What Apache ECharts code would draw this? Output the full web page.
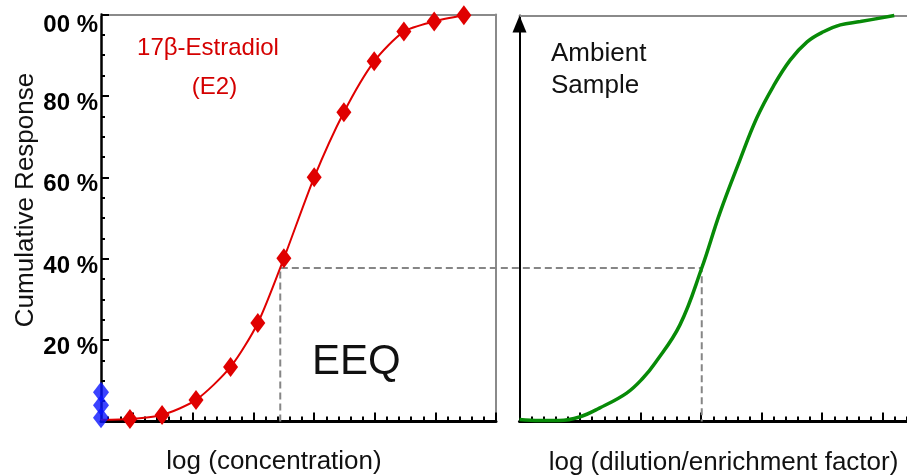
<!DOCTYPE html>
<html><head><meta charset="utf-8">
<script src="https://cdn.jsdelivr.net/npm/echarts@6/dist/echarts.min.js"></script>
<style>html,body{margin:0;padding:0;background:#fff}#c{width:907px;height:476px}</style>
</head><body><div id="c"></div>
<script>
// ---- Left panel: 17β-Estradiol standard curve (x: log concentration, arbitrary units; y: cumulative response %)
const e2LogConc  = [-0.518, -0.04, 0.49, 1.05, 1.62, 2.07, 2.50, 3.00, 3.49, 3.99, 4.48, 4.98, 5.47];
const e2Response = [0.4, 0.6, 1.6, 5.3, 13.4, 24.2, 40.1, 60.0, 76.0, 88.5, 95.8, 98.3, 99.8];
const e2Marked   = [false, true, true, true, true, true, true, true, true, true, true, true, true];
// blank / solvent control points (blue) on the y axis
const blankLogConc  = [-0.518, -0.518, -0.518];
const blankResponse = [0.9, 4.0, 7.2];

// ---- Right panel: ambient sample (x: log dilution/enrichment factor; y: cumulative response %)
const sampleLogDil   = [0.00, 0.33, 0.66, 0.99, 1.32, 1.77, 2.04, 2.24, 2.65, 3.01, 3.31, 3.64, 3.92, 4.19, 4.47, 4.75, 5.02, 5.30, 5.63, 6.19];
const sampleResponse = [0.5, 0.25, 0.25, 1.1, 3.3, 7.0, 10.7, 14.4, 23.8, 37.8, 51.4, 64.4, 74.8, 82.5, 89.0, 93.5, 96.0, 97.7, 98.5, 100];

// ---- EEQ read-off
const eeqLevel = 37.7;
const e2AtLevel = 2.44;
const sampleAtLevel = 3.01;

// ---- Axis ticks / labels
const yTickValues = [20, 40, 60, 80, 100];
const yTickLabels = ['20 %', '40 %', '60 %', '80 %', '00 %'];
const majorTicks = [0, 1, 2, 3, 4, 5, 6];
const leftXRange = [-0.518, 6.0];
const rightXRange = [0, 6.4];

function minorOf(range) {
  const out = [];
  for (let m = -1; m <= 7; m++) for (let k = 1; k <= 4; k++) {
    const v = +(m + k * 0.2).toFixed(3);
    if (v >= range[0] && v <= range[1]) out.push(v);
  }
  return out;
}

const chart = echarts.init(document.getElementById('c'), null, {renderer: 'canvas'});
const labelFont = "'Liberation Sans',Arial,sans-serif";
const txtFont = "'Liberation Sans',Arial,Helvetica,sans-serif";

function tickAxis(grid, range, ticks, len, lineShow) {
  return {
    gridIndex: grid, type: 'value', position: 'bottom', min: range[0], max: range[1],
    axisLine: {show: lineShow, onZero: false, lineStyle: {color: '#000', width: 3}},
    axisTick: {show: true, inside: true, length: len, customValues: ticks, lineStyle: {color: '#000', width: 2}},
    axisLabel: {show: false}, splitLine: {show: false}
  };
}
function borderX(grid, range) {
  return {gridIndex: grid, type: 'value', position: 'top', min: range[0], max: range[1],
    axisLine: {show: true, onZero: false, lineStyle: {color: '#8a8a8a', width: 2}},
    axisTick: {show: false}, axisLabel: {show: false}, splitLine: {show: false}};
}

const option = {
  animation: false,
  backgroundColor: '#fff',
  grid: [
    {left: 101, right: 411, top: 14.5, bottom: 54.5},
    {left: 519.5, right: 0, top: 15.5, bottom: 54.5}
  ],
  xAxis: [
    tickAxis(0, leftXRange, majorTicks, 9, true),
    tickAxis(0, leftXRange, minorOf(leftXRange), 5, false),
    borderX(0, leftXRange),
    tickAxis(1, rightXRange, majorTicks, 9, true),
    tickAxis(1, rightXRange, minorOf(rightXRange), 5, false),
    borderX(1, rightXRange)
  ],
  yAxis: [
    {gridIndex: 0, type: 'value', position: 'left', min: 0, max: 100, interval: 20,
      axisLine: {show: true, onZero: false, lineStyle: {color: '#000', width: 2.5}},
      axisTick: {show: true, inside: true, length: 8, lineStyle: {color: '#000', width: 2}},
      minorTick: {show: true, splitNumber: 4, length: 4, lineStyle: {color: '#000', width: 2}},
      axisLabel: {
        show: true, margin: 3, color: '#000', fontFamily: labelFont, fontWeight: 'bold', fontSize: 24,
        padding: [15, 0, 0, 0],
        formatter: function (v) {
          const i = yTickValues.indexOf(v);
          if (i < 0) return '';
          return v === 100 ? '{t|' + yTickLabels[i] + '}' : yTickLabels[i];
        },
        rich: {t: {padding: [6, 0, 0, 0], fontSize: 24, fontWeight: 'bold', fontFamily: labelFont, color: '#000'}}
      },
      splitLine: {show: false}},
    {gridIndex: 0, type: 'value', position: 'right', min: 0, max: 100,
      axisLine: {show: true, onZero: false, lineStyle: {color: '#8a8a8a', width: 2}},
      axisTick: {show: false}, axisLabel: {show: false}, splitLine: {show: false}},
    {gridIndex: 1, type: 'value', position: 'left', min: 0, max: 100,
      axisLine: {show: true, onZero: false, symbol: ['none', 'triangle'], symbolSize: [14, 17], symbolOffset: [0, -8.5],
        lineStyle: {color: '#000', width: 2}},
      axisTick: {show: false}, axisLabel: {show: false}, splitLine: {show: false}}
  ],
  series: [
    {
      name: '17β-Estradiol', type: 'line', xAxisIndex: 0, yAxisIndex: 0, clip: false,
      smooth: 0.25, lineStyle: {color: '#e00000', width: 2},
      symbol: 'diamond', symbolSize: [15, 20], itemStyle: {color: '#e00000'},
      data: e2LogConc.map((x, i) => e2Marked[i] ? [x, e2Response[i]] : {value: [x, e2Response[i]], symbol: 'none'}),
      z: 3
    },
    {
      name: 'Blank', type: 'scatter', xAxisIndex: 0, yAxisIndex: 0, clip: false,
      symbol: 'diamond', symbolSize: [16, 21], itemStyle: {color: '#0a14ff'},
      data: blankLogConc.map((x, i) => [x, blankResponse[i]]), z: 4
    },
    {
      name: 'Ambient Sample', type: 'line', xAxisIndex: 3, yAxisIndex: 2, clip: false,
      smooth: 0.4, showSymbol: false, symbol: 'none',
      lineStyle: {color: '#078a07', width: 3.5},
      data: sampleLogDil.map((x, i) => [x, sampleResponse[i]]), z: 3
    }
  ]
};
chart.setOption(option);

const pA0 = chart.convertToPixel({seriesIndex: 0}, [e2AtLevel, 0]);
const pA  = chart.convertToPixel({seriesIndex: 0}, [e2AtLevel, eeqLevel]);
const pB  = chart.convertToPixel({seriesIndex: 2}, [sampleAtLevel, eeqLevel]);
const pB0 = chart.convertToPixel({seriesIndex: 2}, [sampleAtLevel, 0]);

function txt(text, x, y, size, color, align, rot) {
  return {type: 'text', x: x, y: y, rotation: rot || 0, z: 10,
    style: {text: text, x: 0, y: 0, fill: color, font: size + 'px ' + txtFont,
      align: align, verticalAlign: 'middle', textAlign: align, textVerticalAlign: 'middle'}};
}

chart.setOption({
  graphic: [
    {type: 'polyline', z: 1, shape: {points: [pA0, pA, [pB[0], pA[1]], pB0]},
      style: {stroke: '#868686', lineWidth: 2, lineDash: [7, 4], fill: null}},
    txt('Cumulative Response', 26, 200, 26, '#111', 'center', Math.PI / 2),
    txt('log (concentration)', 274, 462, 26, '#111', 'center'),
    txt('log (dilution/enrichment factor)', 723.5, 463, 26, '#111', 'center'),
    txt('17β-Estradiol', 208, 48, 24, '#d40000', 'center'),
    txt('(E2)', 214.5, 87, 24, '#d40000', 'center'),
    txt('Ambient', 551, 54, 26, '#111', 'left'),
    txt('Sample', 551, 86, 26, '#111', 'left'),
    txt('EEQ', 312, 362, 42, '#111', 'left')
  ]
});
</script>
</body></html>
